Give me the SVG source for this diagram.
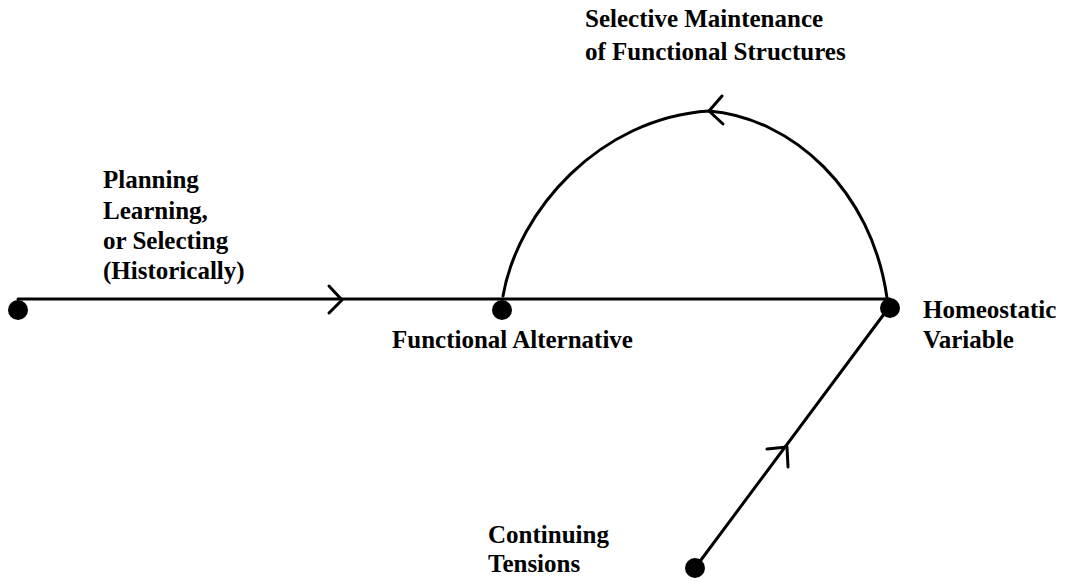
<svg xmlns="http://www.w3.org/2000/svg" width="1074" height="581" viewBox="0 0 1074 581">
<style>
.ln{fill:none;stroke:#000;stroke-width:3;stroke-linecap:round;stroke-linejoin:round}
.dot{fill:#000}
.lbl{font-family:"Liberation Serif","Times New Roman",serif;font-weight:bold;font-size:25px;fill:#000}
</style>
<rect width="1074" height="581" fill="#fff"/>
<g id="connectors">
<path class="ln" d="M18,299 L890,299"/>
<path class="ln" d="M329,286 L342,300 L329,313"/>
<path class="ln" d="M503,296 C518,210 600,118 709,111 C792,118 872,190 887,298"/>
<path class="ln" d="M722,96 L709,111 L723,124"/>
<path class="ln" d="M695,568 L890,306"/>
<path class="ln" d="M767,449 L787,447 L788,467"/>
</g>
<g id="node-planning">
<circle class="dot" cx="18" cy="310" r="10"/>
<text class="lbl" x="103" y="188">Planning</text>
<text class="lbl" x="103" y="219">Learning,</text>
<text class="lbl" x="103" y="249">or Selecting</text>
<text class="lbl" x="103" y="279">(Historically)</text>
</g>
<g id="node-functional-alternative">
<circle class="dot" cx="502" cy="310" r="10"/>
<text class="lbl" x="392" y="348">Functional Alternative</text>
</g>
<g id="node-homeostatic">
<circle class="dot" cx="890" cy="308" r="10"/>
<text class="lbl" x="923" y="318">Homeostatic</text>
<text class="lbl" x="923" y="348">Variable</text>
</g>
<g id="node-continuing">
<circle class="dot" cx="695" cy="568" r="10"/>
<text class="lbl" x="488" y="543">Continuing</text>
<text class="lbl" x="488" y="572">Tensions</text>
</g>
<g id="label-selective">
<text class="lbl" x="585" y="27">Selective Maintenance</text>
<text class="lbl" x="585" y="60">of Functional Structures</text>
</g>
</svg>
